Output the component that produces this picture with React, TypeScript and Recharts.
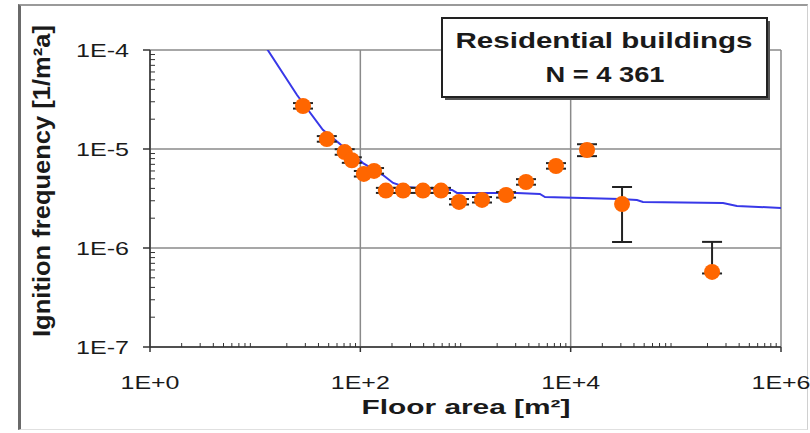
import { ComposedChart, Line, Scatter, ErrorBar, XAxis, YAxis, CartesianGrid, Label } from 'recharts'

const FONT = '"Liberation Sans", Arial, sans-serif'

// Observed ignition frequency per floor-area class
const floorArea = [28.5, 48, 71, 83, 108, 135, 175, 255, 394, 585, 867, 1435, 2430, 3760, 7250, 14300, 30800, 221000]
const ignitionFreq = [2.72e-5, 1.26e-5, 9.3e-6, 7.7e-6, 5.6e-6, 6.0e-6, 3.8e-6, 3.8e-6, 3.8e-6, 3.8e-6, 2.92e-6, 3.06e-6, 3.43e-6, 4.64e-6, 6.73e-6, 9.77e-6, 2.78e-6, 5.73e-7]
const errLow = [1.6e-6, 0.75e-6, 0.55e-6, 0.45e-6, 0.33e-6, 0.36e-6, 0.2e-6, 0.2e-6, 0.2e-6, 0.2e-6, 0.17e-6, 0.18e-6, 0.2e-6, 0.28e-6, 0.4e-6, 1.3e-6, 1.63e-6, 0.02e-6]
const errHigh = [1.9e-6, 0.9e-6, 0.65e-6, 0.55e-6, 0.4e-6, 0.42e-6, 0.25e-6, 0.25e-6, 0.25e-6, 0.25e-6, 0.2e-6, 0.21e-6, 0.24e-6, 0.32e-6, 0.47e-6, 1.4e-6, 1.35e-6, 0.58e-6]

// Fitted curve
const fitArea = [11.9, 25, 44, 106, 164, 205, 266, 745, 830, 3090, 5100, 5700, 29400, 42700, 48700, 281000, 381000, 1e6]
const fitFreq = [1.18e-4, 3.51e-5, 1.56e-5, 7.2e-6, 5.46e-6, 4.54e-6, 4.13e-6, 3.86e-6, 3.6e-6, 3.6e-6, 3.51e-6, 3.27e-6, 3.12e-6, 3.05e-6, 2.92e-6, 2.85e-6, 2.66e-6, 2.54e-6]

const xTicks = [1, 1e2, 1e4, 1e6]
const yTicks = [1e-7, 1e-6, 1e-5, 1e-4]

// 2..9 x 10^e for every decade in range, used for the small inner ticks
function minorTicks(fromExp: number, toExp: number): number[] {
  const out: number[] = []
  for (let e = fromExp; e < toExp; e++) {
    for (let m = 2; m <= 9; m++) out.push(m * Math.pow(10, e))
  }
  return out
}

const xMinor = minorTicks(0, 6)
const yMinor = minorTicks(-7, -4)

const points = floorArea.map((area, i) => ({ area, freq: ignitionFreq[i], err: [errLow[i], errHigh[i]] }))
const fit = fitArea.map((area, i) => ({ area, freq: fitFreq[i] }))

function expLabel(v: number): string {
  const e = Math.round(Math.log10(v))
  return `1E${e >= 0 ? '+' : '-'}${Math.abs(e)}`
}

function XTick(props: any) {
  const { x, y, payload } = props
  return (
    <text x={x} y={y} textAnchor="middle" fontSize={19} fontFamily={FONT} fill="#1a1a1a"
      textLength={59} lengthAdjust="spacingAndGlyphs">
      {expLabel(payload.value)}
    </text>
  )
}

function YTick(props: any) {
  const { x, y, payload } = props
  return (
    <text x={x} y={y + 7} textAnchor="end" fontSize={19} fontFamily={FONT} fill="#1a1a1a"
      textLength={53} lengthAdjust="spacingAndGlyphs">
      {expLabel(payload.value)}
    </text>
  )
}

const noTick = () => <g />

function YTitle() {
  return (
    <text transform="translate(50,181) rotate(-90)" textAnchor="middle" fontSize={24} fontWeight="bold"
      fontFamily={FONT} fill="#1a1a1a" textLength={312} lengthAdjust="spacingAndGlyphs">
      Ignition frequency [1/m²a]
    </text>
  )
}

function XTitle() {
  return (
    <text x={466} y={414} textAnchor="middle" fontSize={21} fontWeight="bold" fontFamily={FONT}
      fill="#1a1a1a" textLength={209} lengthAdjust="spacingAndGlyphs">
      Floor area [m²]
    </text>
  )
}

const Dot = (p: any) => <circle cx={p.cx} cy={p.cy} r={8} fill="#ff6600" />

export default function App() {
  return (
    <div style={{ position: 'absolute', left: 0, top: 0, width: 810, height: 433, background: '#fff', overflow: 'hidden' }}>
      <div style={{
        position: 'absolute', left: 18, top: 4, width: 786, height: 423,
        borderTop: '2px solid #9a9a9a', borderRight: '1px solid #d0d0d0',
        borderBottom: '1px solid #e0e0e0', borderLeft: '3px solid #6a6a6a',
      }} />
      <ComposedChart width={810} height={433} margin={{ top: 50, right: 29, bottom: 46, left: 90 }}
        style={{ position: 'absolute', left: 0, top: 0 }}>
        <CartesianGrid stroke="#8a8a8a" strokeWidth={1.5} />
        <XAxis xAxisId="minor" type="number" dataKey="area" scale="log" domain={[1, 1e6]} allowDataOverflow
          ticks={xMinor} interval={0} mirror axisLine={false} tickSize={4} tick={noTick}
          tickLine={{ stroke: '#333', strokeWidth: 1 }} />
        <XAxis type="number" dataKey="area" scale="log" domain={[1, 1e6]} allowDataOverflow ticks={xTicks}
          interval={0} height={40} tickSize={5} tickMargin={37} tick={<XTick />}
          axisLine={{ stroke: '#333', strokeWidth: 1.5 }} tickLine={{ stroke: '#333', strokeWidth: 1.5 }}>
          <Label content={<XTitle />} />
        </XAxis>
        <YAxis yAxisId="minor" type="number" dataKey="freq" scale="log" domain={[1e-7, 1e-4]} allowDataOverflow
          ticks={yMinor} interval={0} mirror axisLine={false} tickSize={5} tick={noTick}
          tickLine={{ stroke: '#333', strokeWidth: 1 }} />
        <YAxis type="number" dataKey="freq" scale="log" domain={[1e-7, 1e-4]} allowDataOverflow ticks={yTicks}
          interval={0} width={60} tickSize={7} tickMargin={14} tick={<YTick />}
          axisLine={{ stroke: '#333', strokeWidth: 1.5 }} tickLine={{ stroke: '#333', strokeWidth: 1.5 }}>
          <Label content={<YTitle />} />
        </YAxis>
        <Line data={fit} dataKey="freq" type="linear" stroke="#3838e8" strokeWidth={2} dot={false}
          activeDot={false} isAnimationActive={false} />
        <Scatter data={points} dataKey="freq" shape={Dot} isAnimationActive={false}>
          <ErrorBar dataKey="err" direction="y" width={10} stroke="#222" strokeWidth={2} />
        </Scatter>
      </ComposedChart>
      <svg width={810} height={433} style={{ position: 'absolute', left: 0, top: 0, pointerEvents: 'none' }}>
        <rect x={445} y={21} width={325} height={79} fill="#555" />
        <rect x={442} y={18} width={325} height={79} fill="#fff" stroke="#222" strokeWidth={2} />
        <text x={604} y={48} textAnchor="middle" fontSize={22} fontWeight="bold" fontFamily={FONT}
          fill="#1a1a1a" textLength={297} lengthAdjust="spacingAndGlyphs">Residential buildings</text>
        <text x={605} y={82} textAnchor="middle" fontSize={22} fontWeight="bold" fontFamily={FONT}
          fill="#1a1a1a" textLength={119} lengthAdjust="spacingAndGlyphs">N = 4 361</text>
      </svg>
    </div>
  )
}
